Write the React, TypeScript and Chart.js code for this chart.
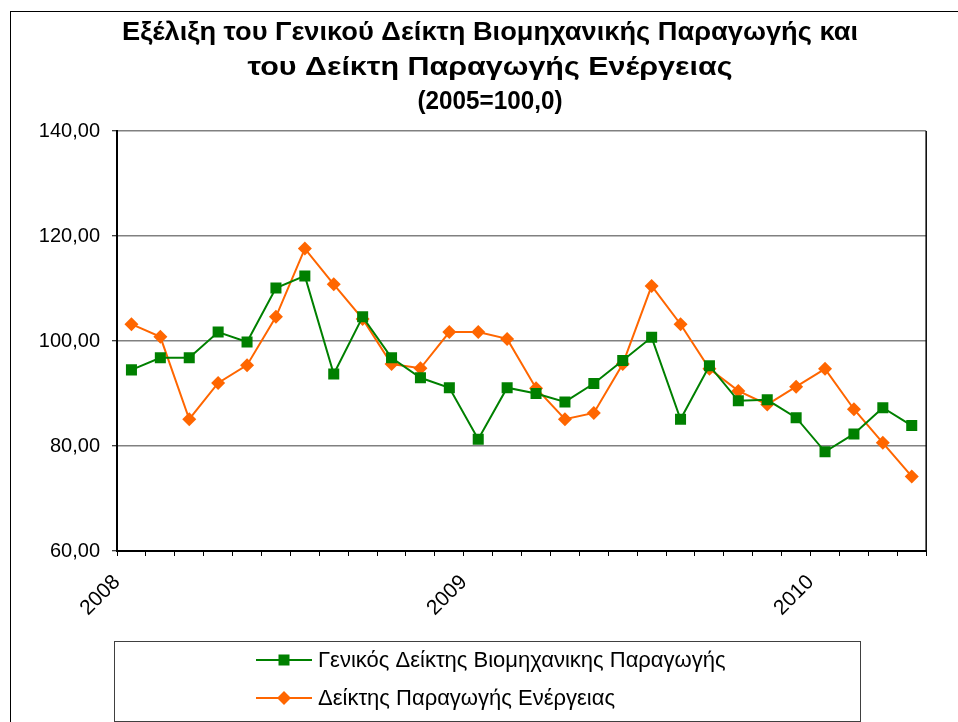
import React, { useEffect, useRef } from "react";
import { Chart, registerables } from "chart.js";

Chart.register(...registerables);

const months = [
  "2008-01", "2008-02", "2008-03", "2008-04", "2008-05", "2008-06",
  "2008-07", "2008-08", "2008-09", "2008-10", "2008-11", "2008-12",
  "2009-01", "2009-02", "2009-03", "2009-04", "2009-05", "2009-06",
  "2009-07", "2009-08", "2009-09", "2009-10", "2009-11", "2009-12",
  "2010-01", "2010-02", "2010-03", "2010-04",
];

const yearTicks = ["2008", "2009", "2010"];

const industrial = [
  94.5, 96.8, 96.8, 101.7, 99.8, 110.1, 112.4, 93.7, 104.6, 96.8, 93.0, 91.1,
  81.3, 91.1, 90.0, 88.4, 91.9, 96.3, 100.7, 85.1, 95.3, 88.6, 88.8, 85.4,
  78.9, 82.3, 87.3, 83.9,
];

const energy = [
  103.2, 100.8, 85.1, 92.0, 95.4, 104.6, 117.6, 110.8, 104.2, 95.6, 94.8, 101.7,
  101.7, 100.4, 91.0, 85.1, 86.3, 95.6, 110.5, 103.2, 94.7, 90.5, 87.9, 91.3,
  94.7, 87.0, 80.6, 74.2,
];

const seriesNames = [
  "Γενικός Δείκτης Βιομηχανικης Παραγωγής",
  "Δείκτης Παραγωγής Ενέργειας",
];

const titleLines = [
  "Εξέλιξη του Γενικού Δείκτη Βιομηχανικής Παραγωγής και",
  "του Δείκτη Παραγωγής Ενέργειας",
  "(2005=100,0)",
];

const GREEN = "#008000";
const ORANGE = "#FF6600";
const FONT = '"Liberation Sans", Arial, sans-serif';

const decorPlugin = {
  id: "decor",
  beforeDraw(chart: any) {
    const ctx = chart.ctx;
    ctx.save();
    ctx.fillStyle = "#ffffff";
    ctx.fillRect(0, 0, chart.width, chart.height);
    ctx.restore();
  },
  beforeDatasetsDraw(chart: any) {
    const ctx = chart.ctx;
    const a = chart.chartArea;
    ctx.save();
    ctx.strokeStyle = "#000";
    ctx.lineWidth = 1.5;
    ctx.beginPath();
    ctx.moveTo(a.right, a.top);
    ctx.lineTo(a.right, a.bottom);
    ctx.stroke();
    ctx.restore();
  },
  afterDraw(chart: any) {
    const ctx = chart.ctx;
    ctx.save();
    // outer border
    ctx.strokeStyle = "#000";
    ctx.lineWidth = 1;
    ctx.strokeRect(10.5, 11.5, 960, 720);

    // title (each line fitted to the width seen in the reference)
    ctx.fillStyle = "#000";
    ctx.font = `bold 26px ${FONT}`;
    ctx.textAlign = "center";
    ctx.textBaseline = "middle";
    const ty = [33, 68, 102];
    const tw = [736, 485, 145];
    titleLines.forEach((t, i) => {
      const w = ctx.measureText(t).width;
      const sx = tw[i] / w;
      ctx.save();
      ctx.translate(490, ty[i]);
      ctx.scale(sx, 1);
      ctx.fillText(t, 0, 0);
      ctx.restore();
    });

    // legend
    ctx.strokeStyle = "#404040";
    ctx.lineWidth = 1;
    ctx.strokeRect(114.5, 641.5, 746, 80);
    const rows = [660, 698];
    const colors = [GREEN, ORANGE];
    rows.forEach((y, i) => {
      ctx.strokeStyle = colors[i];
      ctx.lineWidth = 2;
      ctx.beginPath();
      ctx.moveTo(256, y);
      ctx.lineTo(312, y);
      ctx.stroke();
      ctx.fillStyle = colors[i];
      if (i === 0) {
        ctx.fillRect(284 - 5.5, y - 5.5, 11, 11);
      } else {
        ctx.beginPath();
        ctx.moveTo(284, y - 7);
        ctx.lineTo(291, y);
        ctx.lineTo(284, y + 7);
        ctx.lineTo(277, y);
        ctx.closePath();
        ctx.fill();
      }
      ctx.fillStyle = "#000";
      ctx.font = `22px ${FONT}`;
      ctx.textAlign = "left";
      ctx.textBaseline = "middle";
      ctx.fillText(seriesNames[i], 318, y + 1);
    });
    ctx.restore();
  },
};

export default function App() {
  const ref = useRef<HTMLCanvasElement | null>(null);

  useEffect(() => {
    if (!ref.current) return;
    const chart = new Chart(ref.current, {
      type: "line",
      data: {
        labels: months,
        datasets: [
          {
            label: seriesNames[0],
            data: industrial.map((v, i) => ({ x: i + 0.5, y: v })),
            borderColor: GREEN,
            backgroundColor: GREEN,
            borderWidth: 2,
            pointStyle: "rect",
            pointRadius: 7.8,
            pointBorderWidth: 0,
            pointBackgroundColor: GREEN,
            tension: 0,
          },
          {
            label: seriesNames[1],
            data: energy.map((v, i) => ({ x: i + 0.5, y: v })),
            borderColor: ORANGE,
            backgroundColor: ORANGE,
            borderWidth: 2,
            pointStyle: "rectRot",
            pointRadius: 7,
            pointBorderWidth: 0,
            pointBackgroundColor: ORANGE,
            tension: 0,
          },
        ],
      },
      options: {
        animation: false,
        responsive: false,
        layout: { padding: { top: 131, right: 31, left: 0, bottom: 0 } },
        plugins: {
          legend: { display: false },
          title: { display: false },
          tooltip: { enabled: false },
        },
        scales: {
          x: {
            type: "linear",
            min: 0,
            max: months.length,
            afterFit: (s: any) => {
              s.height = 171;
            },
            grid: {
              drawOnChartArea: false,
              drawTicks: true,
              tickLength: 5,
              tickColor: "#000",
              tickWidth: 1,
            },
            border: { color: "#000", width: 2 },
            ticks: {
              stepSize: 1,
              autoSkip: false,
              minRotation: 45,
              maxRotation: 45,
              padding: 14,
              color: "#000",
              font: { family: FONT, size: 21 },
              callback: (v: any) => {
                const n = Number(v);
                return n % 12 === 0 ? yearTicks[n / 12] ?? "" : "";
              },
            },
          },
          y: {
            min: 60,
            max: 140,
            afterFit: (s: any) => {
              s.width = 117;
            },
            grid: {
              color: "#808080",
              lineWidth: 1.5,
              tickLength: 5,
              tickColor: "#000",
              tickWidth: 1,
            },
            border: { color: "#000", width: 2 },
            ticks: {
              stepSize: 20,
              padding: 12,
              color: "#000",
              font: { family: FONT, size: 20 },
              callback: (v: any) => Number(v).toFixed(2).replace(".", ","),
            },
          },
        },
      },
      plugins: [decorPlugin],
    });
    return () => chart.destroy();
  }, []);

  return (
    <div style={{ position: "absolute", left: 0, top: 0, width: 958, height: 722 }}>
      <canvas ref={ref} width={958} height={722} style={{ display: "block" }} />
    </div>
  );
}
